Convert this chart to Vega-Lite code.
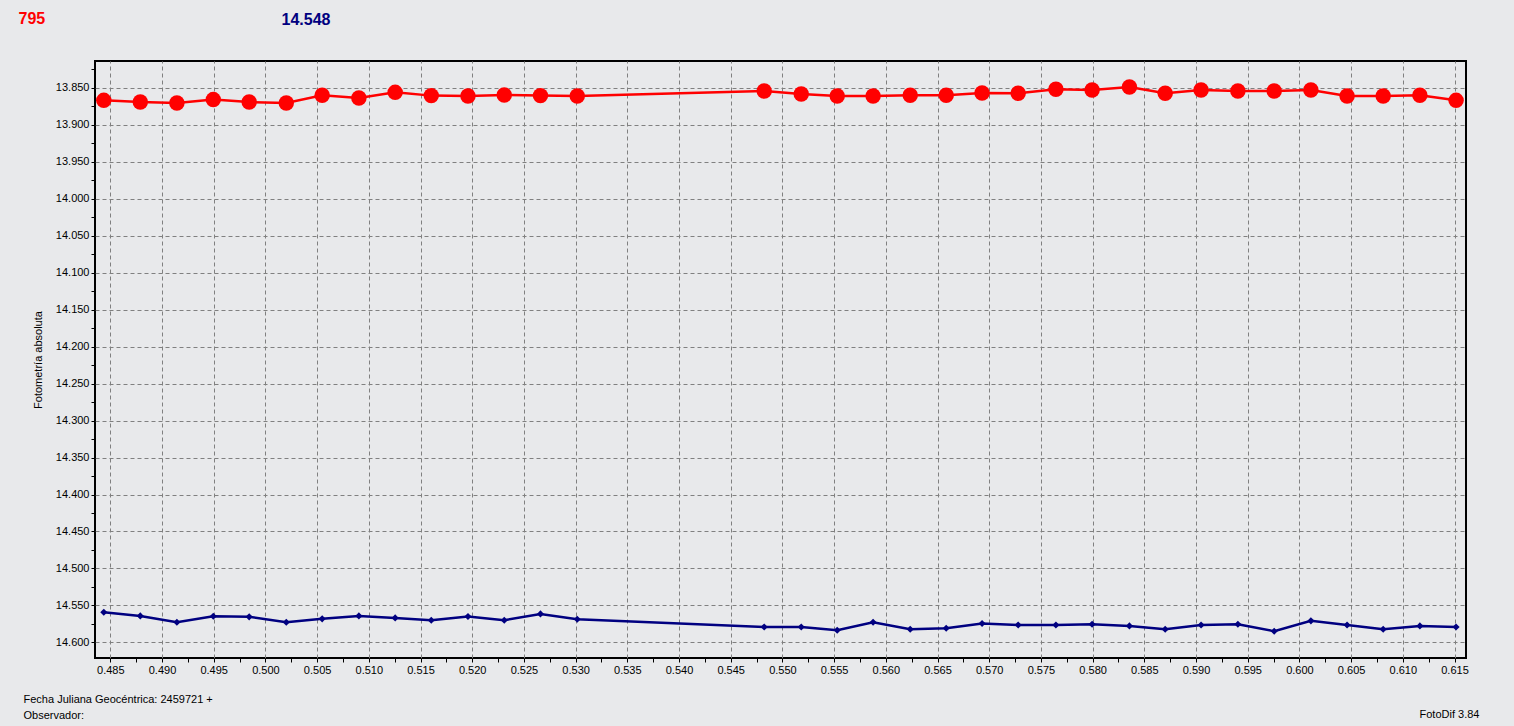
{
  "$schema": "https://vega.github.io/schema/vega-lite/v6.json",
  "width": 1371,
  "height": 597,
  "autosize": {"type": "none"},
  "padding": {"left": 95, "top": 61, "right": 48, "bottom": 68},
  "background": "#e8e9eb",
  "title": {
    "text": "795",
    "anchor": "start",
    "frame": "group",
    "color": "#ff0000",
    "font": "Liberation Sans",
    "fontSize": 16,
    "fontWeight": "bold",
    "dx": -76.5,
    "dy": 20
  },
  "config": {
    "view": {"stroke": "#000000", "strokeWidth": 2},
    "axis": {
      "labelFont": "Liberation Sans",
      "labelFontSize": 11,
      "labelColor": "#000000",
      "titleFont": "Liberation Sans",
      "titleFontSize": 11,
      "titleFontWeight": "normal",
      "titleColor": "#000000",
      "tickColor": "#000000",
      "domain": false,
      "gridColor": "#808080",
      "gridDash": [4, 3],
      "gridWidth": 1
    }
  },
  "datasets": {
    "red": [
      {"t": 0.48437, "mag": 13.8672}, {"t": 0.48790, "mag": 13.8695}, {"t": 0.49144, "mag": 13.8708},
      {"t": 0.49496, "mag": 13.8662}, {"t": 0.49843, "mag": 13.8695}, {"t": 0.50202, "mag": 13.8708},
      {"t": 0.50549, "mag": 13.8604}, {"t": 0.50904, "mag": 13.8641}, {"t": 0.51255, "mag": 13.8564},
      {"t": 0.51604, "mag": 13.8608}, {"t": 0.51959, "mag": 13.8614}, {"t": 0.52310, "mag": 13.8600},
      {"t": 0.52660, "mag": 13.8608}, {"t": 0.53016, "mag": 13.8614}, {"t": 0.54824, "mag": 13.8546},
      {"t": 0.55182, "mag": 13.8586}, {"t": 0.55530, "mag": 13.8614}, {"t": 0.55877, "mag": 13.8614},
      {"t": 0.56236, "mag": 13.8604}, {"t": 0.56584, "mag": 13.8604}, {"t": 0.56931, "mag": 13.8573},
      {"t": 0.57280, "mag": 13.8577}, {"t": 0.57645, "mag": 13.8523}, {"t": 0.57995, "mag": 13.8532},
      {"t": 0.58356, "mag": 13.8492}, {"t": 0.58702, "mag": 13.8577}, {"t": 0.59049, "mag": 13.8532},
      {"t": 0.59405, "mag": 13.8546}, {"t": 0.59756, "mag": 13.8546}, {"t": 0.60111, "mag": 13.8532},
      {"t": 0.60461, "mag": 13.8614}, {"t": 0.60810, "mag": 13.8614}, {"t": 0.61165, "mag": 13.8604},
      {"t": 0.61515, "mag": 13.8672}
    ],
    "blue": [
      {"t": 0.48437, "mag": 14.5591}, {"t": 0.48790, "mag": 14.5641}, {"t": 0.49144, "mag": 14.5726},
      {"t": 0.49496, "mag": 14.5645}, {"t": 0.49843, "mag": 14.5654}, {"t": 0.50202, "mag": 14.5726},
      {"t": 0.50549, "mag": 14.5681}, {"t": 0.50904, "mag": 14.5641}, {"t": 0.51255, "mag": 14.5668},
      {"t": 0.51604, "mag": 14.5699}, {"t": 0.51959, "mag": 14.5649}, {"t": 0.52310, "mag": 14.5699},
      {"t": 0.52660, "mag": 14.5614}, {"t": 0.53016, "mag": 14.5685}, {"t": 0.54824, "mag": 14.5790},
      {"t": 0.55182, "mag": 14.5790}, {"t": 0.55530, "mag": 14.5834}, {"t": 0.55877, "mag": 14.5726},
      {"t": 0.56236, "mag": 14.5821}, {"t": 0.56584, "mag": 14.5807}, {"t": 0.56931, "mag": 14.5744},
      {"t": 0.57280, "mag": 14.5763}, {"t": 0.57645, "mag": 14.5763}, {"t": 0.57995, "mag": 14.5753},
      {"t": 0.58356, "mag": 14.5776}, {"t": 0.58702, "mag": 14.5821}, {"t": 0.59049, "mag": 14.5763},
      {"t": 0.59405, "mag": 14.5753}, {"t": 0.59756, "mag": 14.5848}, {"t": 0.60111, "mag": 14.5708},
      {"t": 0.60461, "mag": 14.5763}, {"t": 0.60810, "mag": 14.5821}, {"t": 0.61165, "mag": 14.5776},
      {"t": 0.61515, "mag": 14.5790}
    ]
  },
  "resolve": {"scale": {"x": "shared", "y": "shared"}, "axis": {"x": "independent", "y": "independent"}},
  "layer": [
    {
      "data": {"name": "red"},
      "mark": {"type": "line", "color": "#ff0000", "strokeWidth": 2.5},
      "encoding": {
        "x": {
          "field": "t", "type": "quantitative",
          "scale": {"domain": [0.48352, 0.61611], "nice": false, "zero": false},
          "axis": {
            "orient": "bottom",
            "values": [0.485,0.4875,0.49,0.4925,0.495,0.4975,0.5,0.5025,0.505,0.5075,0.51,0.5125,0.515,0.5175,0.52,0.5225,0.525,0.5275,0.53,0.5325,0.535,0.5375,0.54,0.5425,0.545,0.5475,0.55,0.5525,0.555,0.5575,0.56,0.5625,0.565,0.5675,0.57,0.5725,0.575,0.5775,0.58,0.5825,0.585,0.5875,0.59,0.5925,0.595,0.5975,0.6,0.6025,0.605,0.6075,0.61,0.6125,0.615],
            "labelExpr": "round(datum.value*400)%2==0 ? format(datum.value,'.3f') : ''",
            "gridOpacity": {"condition": {"test": "round(datum.value*400)%2==0", "value": 1}, "value": 0},
            "tickSize": 4,
            "labelPadding": 2,
            "labelOverlap": false,
            "labelFlush": false,
            "title": ["Fecha Juliana Geocéntrica: 2459721 +", "Observador:"],
            "titleAlign": "left",
            "titleAnchor": "start",
            "titleBaseline": "alphabetic",
            "titleX": -72,
            "titleY": 44,
            "titleLineHeight": 16
          }
        },
        "y": {
          "field": "mag", "type": "quantitative",
          "scale": {"domain": [13.814, 14.621], "nice": false, "zero": false, "reverse": true},
          "axis": {
            "orient": "left",
            "values": [13.825,13.85,13.875,13.9,13.925,13.95,13.975,14,14.025,14.05,14.075,14.1,14.125,14.15,14.175,14.2,14.225,14.25,14.275,14.3,14.325,14.35,14.375,14.4,14.425,14.45,14.475,14.5,14.525,14.55,14.575,14.6],
            "labelExpr": "round(datum.value*40)%2==0 ? format(datum.value,'.3f') : ''",
            "gridOpacity": {"condition": {"test": "round(datum.value*40)%2==0", "value": 1}, "value": 0},
            "tickSize": 4,
            "labelPadding": 2,
            "labelOverlap": false,
            "labelFlush": false,
            "title": "Fotometría absoluta",
            "titleX": -52,
            "titlePadding": 0
          }
        }
      }
    },
    {
      "data": {"name": "red"},
      "mark": {"type": "circle", "color": "#ff0000", "size": 240, "opacity": 1},
      "encoding": {
        "x": {"field": "t", "type": "quantitative", "axis": null},
        "y": {"field": "mag", "type": "quantitative", "axis": null}
      }
    },
    {
      "data": {"name": "blue"},
      "mark": {"type": "line", "color": "#000080", "strokeWidth": 2.5},
      "encoding": {
        "x": {
          "field": "t", "type": "quantitative",
          "axis": {
            "orient": "top", "labels": false, "ticks": false, "grid": false, "domain": false,
            "title": "14.548",
            "titleColor": "#000080",
            "titleFontSize": 16,
            "titleFontWeight": "bold",
            "titleAlign": "left",
            "titleBaseline": "middle",
            "titleX": 186,
            "titleY": -42
          }
        },
        "y": {
          "field": "mag", "type": "quantitative",
          "axis": {
            "orient": "right", "labels": false, "ticks": false, "grid": false, "domain": false,
            "title": "FotoDif 3.84",
            "titleAngle": 0,
            "titleAlign": "left",
            "titleBaseline": "middle",
            "titleX": -47,
            "titleY": 653
          }
        }
      }
    },
    {
      "data": {"name": "blue"},
      "mark": {"type": "point", "shape": "diamond", "filled": true, "color": "#000080", "size": 50, "opacity": 1},
      "encoding": {
        "x": {"field": "t", "type": "quantitative", "axis": null},
        "y": {"field": "mag", "type": "quantitative", "axis": null}
      }
    }
  ]
}
